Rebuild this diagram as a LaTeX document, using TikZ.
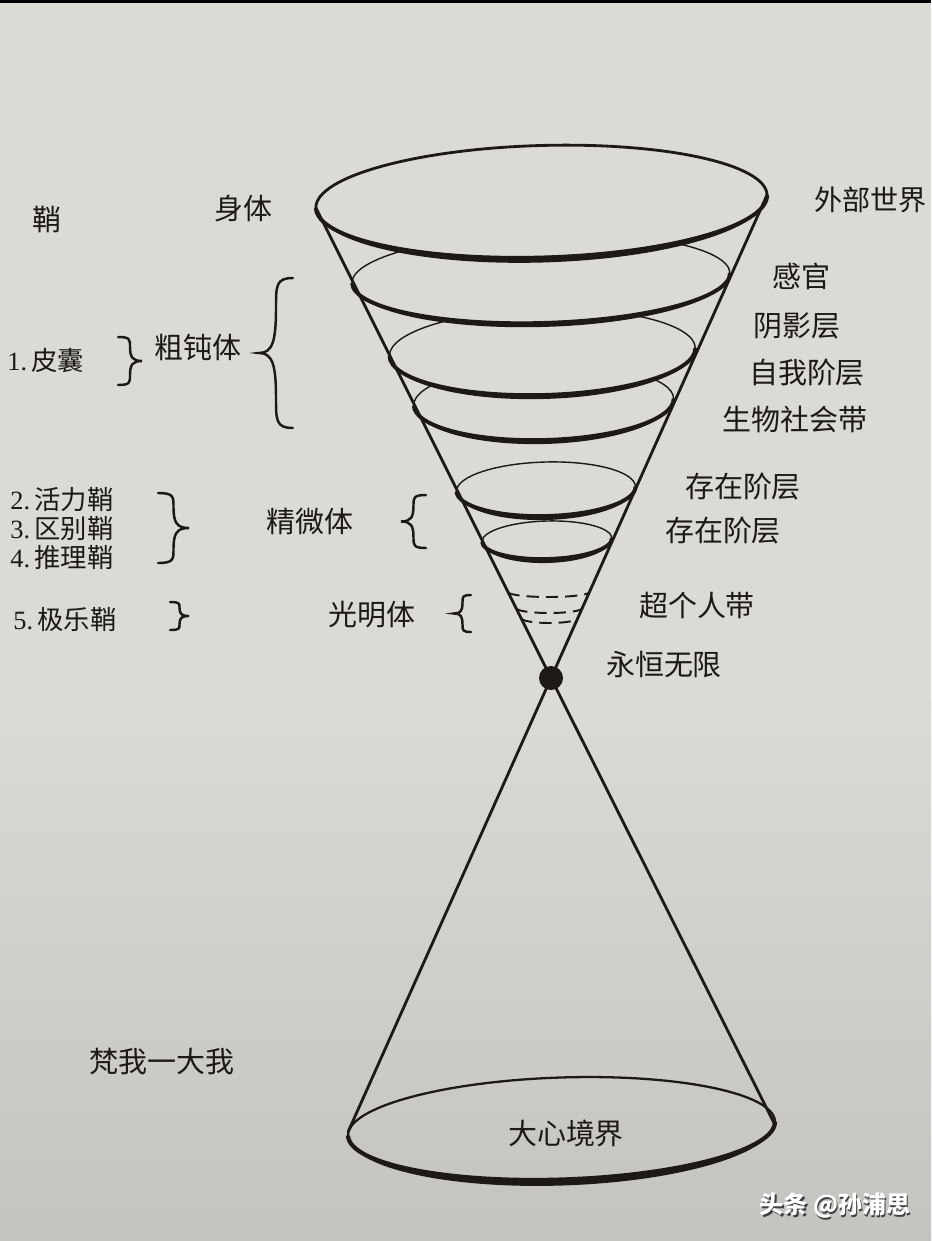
\documentclass[tikz,border=0pt]{standalone}
\usepackage{fontspec}
\setmainfont{Liberation Serif}
\newfontfamily\cjk{Noto Sans CJK SC}
\usetikzlibrary{positioning}

\definecolor{paper}{RGB}{219,218,213}
\definecolor{paperlow}{RGB}{196,195,191}
\definecolor{ink}{RGB}{28,25,23}

\tikzset{
  lbl/.style={font=\fontsize{16.5}{19}\selectfont\cjk, text=ink, inner sep=0pt},
  numlbl/.style={lbl, anchor=west, font=\fontsize{15}{17}\selectfont\cjk},
  wmark/.style={font=\fontsize{13.7}{16}\selectfont\cjk\bfseries, inner sep=0pt},
  cone/.style={draw=ink, line width=1.6pt},
  frontrim/.style={draw=ink, line width=2.2pt},
  dashrim/.style={draw=ink, line width=1.1pt, dash pattern=on 7pt off 4pt},
  bracestroke/.style={draw=ink, line width=1.4pt, line cap=round},
  curlybrace/.pic={\draw[bracestroke] (1,0) .. controls (0.5,0) and (0.5,0.05) .. (0.5,0.2)
    .. controls (0.5,0.42) and (0.4,0.5) .. (0,0.5)
    .. controls (0.4,0.5) and (0.5,0.58) .. (0.5,0.8)
    .. controls (0.5,0.95) and (0.5,1) .. (1,1);}
}

% one layer of the cone: angle, centre x, centre y, x radius, y radius, rim, back line
\newcommand{\layerdisc}[7]{%
  \begin{scope}[rotate around={#1:(#2,#3)}]
    \fill[paper] (#2,#3) ellipse [x radius=#4, y radius=#5];
    \draw[ink, line width=#7] (#2,#3) ellipse [x radius=#4, y radius=#5];
    \draw[frontrim] ({#2-#4},#3) arc [start angle=180, end angle=0, x radius=#4, y radius=#5];
    \fill[ink] ({#2-#4},#3) arc [start angle=180, end angle=0, x radius=#4, y radius=#5]
      arc [start angle=0, end angle=180, x radius=#4, y radius={#5+#6}] -- cycle;
  \end{scope}}

\begin{document}
\begin{tikzpicture}[x=0.02cm, y=-0.02cm]
\useasboundingbox (0,0) rectangle (931,1241);
\clip (0,0) rectangle (931,1241);
% paper
\fill[paper] (0,0) rectangle (931,1241);
\shade[top color=paper, bottom color=paperlow] (0,700) rectangle (931,1241);
\fill[black] (0,0) rectangle (931,3);

% layers of the upper cone, narrowest first
\layerdisc{1.5}{547}{540}{65}{19}{4}{0.8pt}
\layerdisc{1.5}{546}{489}{89.5}{27}{4}{0.8pt}
\layerdisc{1.5}{543.7}{402}{130}{38}{4}{0.8pt}
\layerdisc{1.5}{542.4}{352}{153}{43}{4}{0.8pt}
\layerdisc{1.5}{541}{278}{189}{45}{4}{0.8pt}
\layerdisc{1.65}{541.5}{201.5}{225.7}{56}{5}{1.6pt}

% dashed bands
\draw[dashrim] (508,592) arc [start angle=180, end angle=0, x radius=40.7, y radius=5];
\draw[dashrim] (516,608) arc [start angle=180, end angle=0, x radius=33.2, y radius=5];
\draw[dashrim] (521,618) arc [start angle=180, end angle=0, x radius=28.4, y radius=5];

% bottom ellipse
\begin{scope}[rotate around={1.9:(561.5,1128.5)}]
  \draw[ink, line width=1.3pt] (561.5,1128.5) ellipse [x radius=213.6, y radius=51];
  \draw[frontrim, line width=2.4pt] (347.9,1128.5) arc [start angle=180, end angle=0, x radius=213.6, y radius=51];
  \fill[ink] (347.9,1128.5) arc [start angle=180, end angle=0, x radius=213.6, y radius=51]
    arc [start angle=0, end angle=180, x radius=213.6, y radius=57] -- cycle;
\end{scope}

% cone
\coordinate (apex) at (551,678);
\coordinate (topL) at (316,208);
\coordinate (topR) at (767,195);
\coordinate (botL) at (348,1132);
\coordinate (botR) at (775,1125);
\draw[cone] (topL) -- (apex) -- (topR);
\draw[cone] (botL) -- (apex) -- (botR);
\fill[ink] (apex) circle (12);

% labels right
\node[lbl, anchor=west, font=\fontsize{16}{18}\selectfont\cjk] (outer) at (814,200) {外部世界};
\node[lbl] (senses) at (801,276) {感官};
\node[lbl] (shadow) at (797,326) {阴影层};
\node[lbl] (ego) at (807,373) {自我阶层};
\node[lbl] (biosoc) at (795,419) {生物社会带};
\node[lbl] (exist1) at (743,487) {存在阶层};
\node[lbl] (exist2) at (723,531) {存在阶层};
\node[lbl] (transp) at (697,605) {超个人带};
\node[lbl] (eternal) at (664,664) {永恒无限};

% labels left
\node[lbl] (sheath) at (47,220) {鞘};
\node[lbl] (body) at (243,209) {身体};
\node[numlbl] (sheath1) at (7,361) {{\rmfamily 1.}\,皮囊};
\node[lbl] (gross) at (198,347) {粗钝体};
\node[numlbl] (sheath2) at (10,500) {{\rmfamily 2.}\,活力鞘};
\node[numlbl] (sheath3) at (10,529) {{\rmfamily 3.}\,区别鞘};
\node[numlbl] (sheath4) at (10,558) {{\rmfamily 4.}\,推理鞘};
\node[numlbl] (sheath5) at (13,619) {{\rmfamily 5.}\,极乐鞘};
\node[lbl] (subtle) at (310,522) {精微体};
\node[lbl] (causal) at (372,615) {光明体};
\node[lbl] (brahman) at (162,1062) {梵我一大我};
\node[lbl] (bigmind) at (566,1133) {大心境界};

% braces
\pic[xscale=34, yscale=150] at (259,278) {curlybrace};
\pic[xscale=-24, yscale=48] at (142,337) {curlybrace};
\pic[xscale=-31, yscale=70] at (189,493) {curlybrace};
\pic[xscale=25, yscale=53] at (401,495) {curlybrace};
\pic[xscale=-19, yscale=28] at (189,602) {curlybrace};
\pic[xscale=17, yscale=37] at (454,595) {curlybrace};

% watermark
\node[wmark, text=black!75] at (836.5,1207.5) {头条 @孙浦思};
\node[wmark, text=white] (mark) at (835,1206) {头条 @孙浦思};
\end{tikzpicture}
\end{document}
